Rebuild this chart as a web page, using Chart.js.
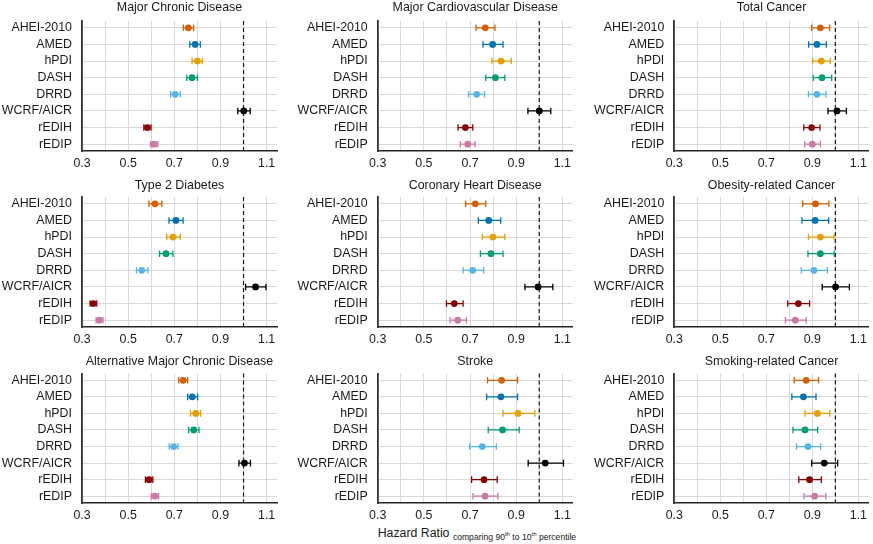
<!DOCTYPE html>
<html>
<head>
<meta charset="utf-8">
<script src="https://cdn.jsdelivr.net/npm/chart.js@4"></script>
<style>
  html, body { margin: 0; padding: 0; background: #ffffff; }
  #wrap { position: relative; width: 873px; height: 544px; overflow: hidden; font-family: "Liberation Sans", Arial, sans-serif; }
  canvas { position: absolute; }
  #xtitle { position: absolute; left: 377.7px; width: 195px; top: 526px; text-align: center; white-space: nowrap;
            font-size: 12.3px; line-height: 15px; color: #1a1a1a; }
  #xtitle sub { font-size: 8.6px; vertical-align: -3px; }
  #xtitle sup { font-size: 6px; vertical-align: 4px; }
</style>
</head>
<body>
<div id="wrap">
  <div id="xtitle">Hazard Ratio <sub>comparing 90<sup>th</sup> to 10<sup>th</sup> percentile</sub></div>
</div>
<script>
// ---------- DATA ----------
const categories = ['AHEI-2010', 'AMED', 'hPDI', 'DASH', 'DRRD', 'WCRF/AICR', 'rEDIH', 'rEDIP'];
const outcomes = ['Major Chronic Disease', 'Major Cardiovascular Disease', 'Total Cancer',
                  'Type 2 Diabetes', 'Coronary Heart Disease', 'Obesity-related Cancer',
                  'Alternative Major Chronic Disease', 'Stroke', 'Smoking-related Cancer'];
const xTickValues = [0.3, 0.4, 0.5, 0.6, 0.7, 0.8, 0.9, 1.0, 1.1];
const xTickLabels = ['0.3', '0.5', '0.7', '0.9', '1.1'];
const referenceValue = 1.0;

const majorChronicHR    = [0.761, 0.790, 0.800, 0.777, 0.704, 1.001, 0.583, 0.612];
const majorChronicLower = [0.739, 0.767, 0.777, 0.754, 0.684, 0.975, 0.568, 0.597];
const majorChronicUpper = [0.784, 0.813, 0.822, 0.800, 0.726, 1.029, 0.599, 0.628];

const majorCVDHR    = [0.766, 0.798, 0.834, 0.810, 0.729, 1.000, 0.680, 0.690];
const majorCVDLower = [0.726, 0.756, 0.795, 0.768, 0.694, 0.951, 0.648, 0.658];
const majorCVDUpper = [0.808, 0.843, 0.879, 0.851, 0.763, 1.050, 0.712, 0.722];

const totalCancerHR    = [0.935, 0.920, 0.939, 0.942, 0.920, 1.007, 0.897, 0.900];
const totalCancerLower = [0.897, 0.884, 0.901, 0.904, 0.883, 0.968, 0.863, 0.867];
const totalCancerUpper = [0.975, 0.961, 0.978, 0.984, 0.959, 1.048, 0.933, 0.935];

const diabetesHR    = [0.616, 0.707, 0.694, 0.664, 0.559, 1.052, 0.349, 0.375];
const diabetesLower = [0.590, 0.677, 0.667, 0.636, 0.536, 1.009, 0.335, 0.361];
const diabetesUpper = [0.646, 0.738, 0.726, 0.694, 0.586, 1.097, 0.364, 0.391];

const chdHR    = [0.723, 0.781, 0.799, 0.791, 0.712, 0.995, 0.632, 0.647];
const chdLower = [0.681, 0.736, 0.753, 0.745, 0.670, 0.938, 0.598, 0.614];
const chdUpper = [0.768, 0.833, 0.851, 0.843, 0.759, 1.059, 0.670, 0.684];

const obesityCancerHR    = [0.914, 0.912, 0.935, 0.935, 0.907, 1.001, 0.839, 0.826];
const obesityCancerLower = [0.858, 0.855, 0.883, 0.881, 0.852, 0.943, 0.793, 0.783];
const obesityCancerUpper = [0.972, 0.971, 0.994, 0.995, 0.965, 1.061, 0.888, 0.873];

const altChronicHR    = [0.738, 0.778, 0.793, 0.784, 0.697, 1.004, 0.591, 0.616];
const altChronicLower = [0.719, 0.758, 0.770, 0.762, 0.678, 0.980, 0.575, 0.600];
const altChronicUpper = [0.758, 0.801, 0.814, 0.807, 0.716, 1.030, 0.607, 0.632];

const strokeHR    = [0.837, 0.834, 0.908, 0.841, 0.753, 1.026, 0.761, 0.765];
const strokeLower = [0.776, 0.772, 0.843, 0.779, 0.699, 0.952, 0.707, 0.713];
const strokeUpper = [0.906, 0.906, 0.981, 0.913, 0.814, 1.105, 0.818, 0.821];

const smokingCancerHR    = [0.873, 0.861, 0.922, 0.868, 0.881, 0.952, 0.888, 0.910];
const smokingCancerLower = [0.821, 0.811, 0.868, 0.816, 0.831, 0.897, 0.841, 0.864];
const smokingCancerUpper = [0.927, 0.916, 0.976, 0.923, 0.936, 1.010, 0.939, 0.959];

// ---------- STYLE ----------
const colors = ['#D55E00', '#0072B2', '#E69F00', '#009E73', '#56B4E9', '#000000', '#8B0000', '#CC79A7'];
const FONT = '"Liberation Sans", Arial, sans-serif';
const TEXT = '#1a1a1a';
const FONT_SIZE = 12.4;

const panelData = [
  [majorChronicHR, majorChronicLower, majorChronicUpper],
  [majorCVDHR, majorCVDLower, majorCVDUpper],
  [totalCancerHR, totalCancerLower, totalCancerUpper],
  [diabetesHR, diabetesLower, diabetesUpper],
  [chdHR, chdLower, chdUpper],
  [obesityCancerHR, obesityCancerLower, obesityCancerUpper],
  [altChronicHR, altChronicLower, altChronicUpper],
  [strokeHR, strokeLower, strokeUpper],
  [smokingCancerHR, smokingCancerLower, smokingCancerUpper]
];

// layout: columns and rows
const cols = [
  { left: 0,   width: 290, yw: 82.0, padR: 13.0 },
  { left: 290, width: 290, yw: 87.7, padR: 7.3 },
  { left: 580, width: 293, yw: 94.3, padR: 4.3 }
];
const rows = [
  { top: 0,   height: 176, titleY: 8.0,  plotTop: 21.0 },
  { top: 176, height: 176, titleY: 9.5,  plotTop: 21.0 },
  { top: 352, height: 176, titleY: 10.0, plotTop: 21.5 }
];
const X_AXIS_H = 25;

// panel title drawn centered over the plotting area
const panelTitlePlugin = {
  id: 'panelTitle',
  afterDraw(chart, args, opts) {
    const { ctx, chartArea } = chart;
    ctx.save();
    ctx.fillStyle = TEXT;
    ctx.font = `${FONT_SIZE}px ${FONT}`;
    ctx.textAlign = 'center';
    ctx.textBaseline = 'middle';
    ctx.fillText(opts.text, (chartArea.left + chartArea.right) / 2, opts.y);
    ctx.restore();
  }
};

const errorBarPlugin = {
  id: 'errorBars',
  beforeDatasetsDraw(chart, args, opts) {
    const { ctx } = chart;
    const xs = chart.scales.x, ys = chart.scales.y;
    const area = chart.chartArea;
    // reference line
    ctx.save();
    ctx.strokeStyle = '#1a1a1a';
    ctx.lineWidth = 1.2;
    ctx.setLineDash([4, 3]);
    const rx = xs.getPixelForValue(referenceValue);
    ctx.beginPath();
    ctx.moveTo(rx, area.top);
    ctx.lineTo(rx, area.bottom);
    ctx.stroke();
    ctx.restore();
    // error bars
    const lo = opts.lower, hi = opts.upper;
    ctx.save();
    ctx.lineWidth = 1.3;
    const cap = 3.3;
    for (let i = 0; i < lo.length; i++) {
      const y = ys.getPixelForValue(i);
      const x1 = xs.getPixelForValue(lo[i]);
      const x2 = xs.getPixelForValue(hi[i]);
      ctx.strokeStyle = colors[i];
      ctx.beginPath();
      ctx.moveTo(x1, y); ctx.lineTo(x2, y);
      ctx.moveTo(x1, y - cap); ctx.lineTo(x1, y + cap);
      ctx.moveTo(x2, y - cap); ctx.lineTo(x2, y + cap);
      ctx.stroke();
    }
    ctx.restore();
  }
};

const wrap = document.getElementById('wrap');
outcomes.forEach((title, p) => {
  const c = cols[p % 3], r = rows[Math.floor(p / 3)];
  const [est, lower, upper] = panelData[p];
  const cv = document.createElement('canvas');
  cv.width = c.width; cv.height = r.height;
  cv.style.left = c.left + 'px'; cv.style.top = r.top + 'px';
  cv.style.width = c.width + 'px'; cv.style.height = r.height + 'px';
  wrap.appendChild(cv);

  new Chart(cv.getContext('2d'), {
    type: 'scatter',
    data: {
      datasets: [{
        data: est.map((v, i) => ({ x: v, y: i })),
        pointBackgroundColor: colors,
        pointBorderColor: colors,
        pointBorderWidth: 0,
        pointRadius: 3.4,
        pointHoverRadius: 3.4
      }]
    },
    options: {
      responsive: false,
      animation: false,
      devicePixelRatio: 1,
      events: [],
      layout: { padding: { left: 0, right: c.padR, top: r.plotTop, bottom: 0 } },
      plugins: {
        legend: { display: false },
        tooltip: { enabled: false },
        title: { display: false },
        panelTitle: { text: title, y: r.titleY },
        errorBars: { lower: lower, upper: upper }
      },
      scales: {
        x: {
          type: 'linear',
          min: 0.3,
          max: 1.145,
          afterBuildTicks: (s) => { s.ticks = xTickValues.map(v => ({ value: v })); },
          afterFit: (s) => { s.height = X_AXIS_H; },
          ticks: {
            autoSkip: false,
            maxRotation: 0,
            padding: 5,
            color: TEXT,
            font: { family: FONT, size: FONT_SIZE },
            callback: (v) => { const t = Number(v).toFixed(1); return xTickLabels.includes(t) ? t : ''; }
          },
          grid: { color: '#d9d9d9', lineWidth: 1, drawTicks: false },
          border: { display: true, color: '#262626', width: 1.6 }
        },
        y: {
          type: 'linear',
          reverse: true,
          min: -0.41,
          max: 7.41,
          afterBuildTicks: (s) => { s.ticks = categories.map((_, i) => ({ value: i })); },
          afterFit: (s) => { s.width = c.yw; },
          ticks: {
            autoSkip: false,
            padding: 10,
            color: TEXT,
            font: { family: FONT, size: FONT_SIZE },
            callback: (v) => categories[v]
          },
          grid: { color: '#d9d9d9', lineWidth: 1, drawTicks: false },
          border: { display: true, color: '#333333', width: 1.8 }
        }
      }
    },
    plugins: [errorBarPlugin, panelTitlePlugin]
  });
});
</script>
</body>
</html>
